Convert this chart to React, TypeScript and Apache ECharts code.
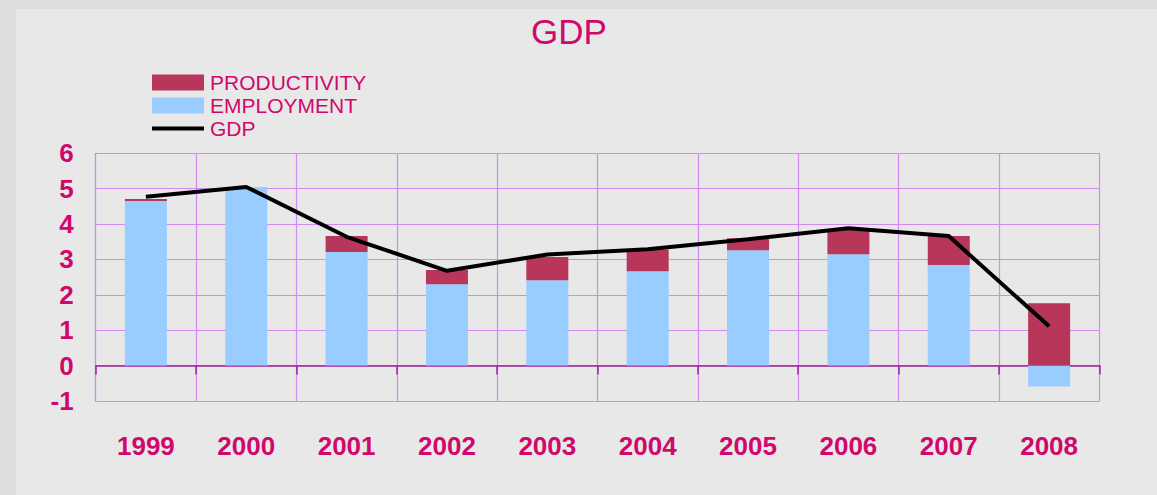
import React, { useEffect, useRef } from "react";
import * as echarts from "echarts";

const years = ["1999", "2000", "2001", "2002", "2003", "2004", "2005", "2006", "2007", "2008"];
const employment = [4.65, 5.05, 3.21, 2.3, 2.41, 2.67, 3.26, 3.15, 2.84, -0.59];
const productivity = [0.06, 0.0, 0.45, 0.4, 0.66, 0.61, 0.34, 0.7, 0.82, 1.76];
const gdp = [4.77, 5.05, 3.64, 2.68, 3.14, 3.29, 3.57, 3.88, 3.66, 1.11];

const MAGENTA = "#d1086c";
const GRIDC = "#d08af2";
const AXISC = "#a0209e";

export default function App() {
  const ref = useRef<HTMLDivElement>(null);
  useEffect(() => {
    if (!ref.current) return;
    const chart = echarts.init(ref.current, undefined, { renderer: "svg" });
    chart.setOption({
      animation: false,
      backgroundColor: "transparent",
      title: {
        text: "GDP",
        left: 569,
        textAlign: "center",
        top: 14,
        padding: 0,
        textStyle: { color: MAGENTA, fontSize: 35, fontWeight: "normal", fontFamily: "Liberation Sans" },
      },
      legend: {
        orient: "vertical",
        left: 150,
        top: 72,
        padding: 0,
        itemWidth: 52,
        itemHeight: 16,
        itemGap: 2,
        data: [
          { name: "PRODUCTIVITY", icon: "rect" },
          { name: "EMPLOYMENT", icon: "rect" },
          { name: "GDP", itemStyle: { opacity: 0 }, lineStyle: { width: 4, color: "#000000" } },
        ],
        textStyle: { color: MAGENTA, fontSize: 21, fontFamily: "Liberation Sans", padding: [0, 0, 0, 1] },
      },
      grid: { left: 95.7, right: 57.7, top: 153.3, bottom: 94, containLabel: false },
      xAxis: [
        {
          type: "category",
          data: years,
          position: "bottom",
          axisLine: { show: true, onZero: true, lineStyle: { color: AXISC, width: 1.5 } },
          axisTick: { show: true, length: 9, lineStyle: { color: AXISC, width: 1.5 } },
          axisLabel: { show: false },
          splitLine: { show: true, lineStyle: { color: GRIDC, width: 1.2 } },
        },
        {
          type: "category",
          data: years,
          position: "bottom",
          axisLine: { show: false, onZero: false },
          axisTick: { show: false },
          splitLine: { show: false },
          axisLabel: {
            margin: 32,
            color: MAGENTA,
            fontSize: 26,
            fontWeight: "bold",
            fontFamily: "Liberation Sans",
          },
        },
      ],
      yAxis: {
        type: "value",
        min: -1,
        max: 6,
        interval: 1,
        axisLine: { show: true, lineStyle: { color: GRIDC, width: 1.2 } },
        axisTick: { show: false },
        splitLine: { show: true, lineStyle: { color: GRIDC, width: 1.2 } },
        axisLabel: {
          margin: 22,
          color: MAGENTA,
          fontSize: 26,
          fontWeight: "bold",
          fontFamily: "Liberation Sans",
        },
      },
      series: [
        {
          name: "EMPLOYMENT",
          type: "bar",
          stack: "g",
          barWidth: 42,
          data: employment,
          itemStyle: { color: "#99ccff" },
        },
        {
          name: "PRODUCTIVITY",
          type: "bar",
          stack: "g",
          barWidth: 42,
          data: productivity,
          itemStyle: { color: "#b8365a" },
        },
        {
          name: "GDP",
          type: "line",
          data: gdp,
          symbol: "none",
          lineStyle: { color: "#000000", width: 4 },
          itemStyle: { color: "#000000" },
          z: 5,
        },
      ],
    });
    return () => chart.dispose();
  }, []);
  return (
    <div style={{ position: "fixed", left: 0, top: 0, width: 1157, height: 495, background: "#dedede" }}>
      <div style={{ position: "absolute", left: 16, top: 9, right: 0, bottom: 0, background: "#e8e8e8" }} />
      <div ref={ref} style={{ position: "absolute", left: 0, top: 0, width: 1157, height: 495 }} />
    </div>
  );
}
